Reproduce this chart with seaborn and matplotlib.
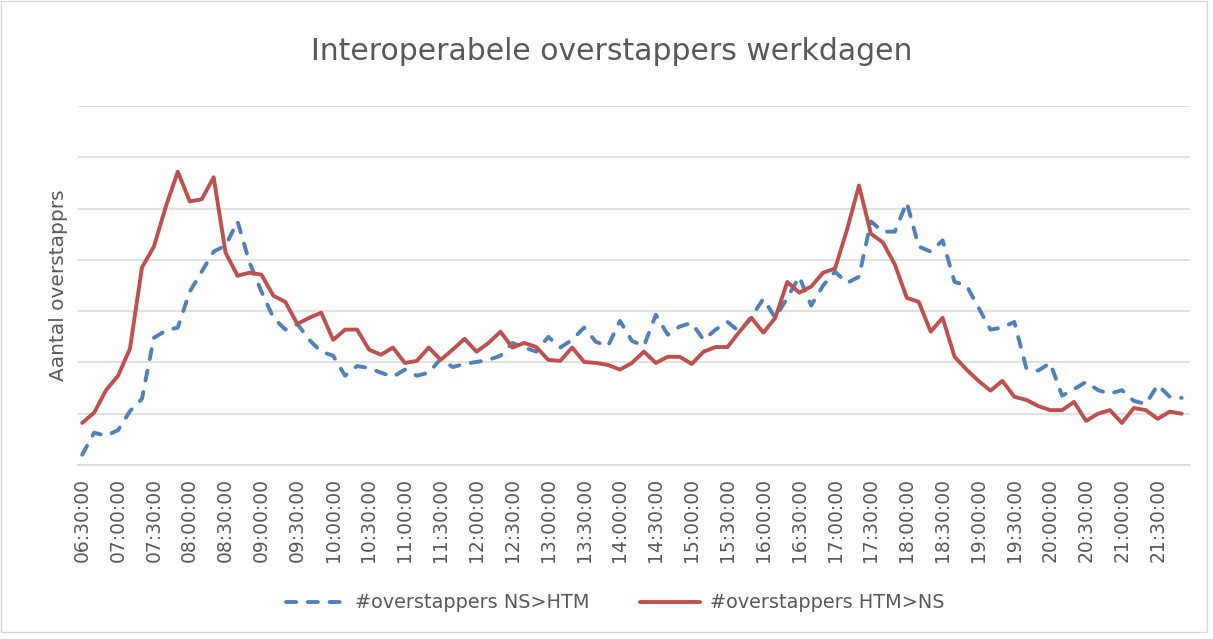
import numpy as np
import pandas as pd
import matplotlib
matplotlib.use("Agg")
import matplotlib.pyplot as plt
import seaborn as sns
from matplotlib.patches import Rectangle

# ---- data ----
start_minutes = 6 * 60 + 30
times = [f"{(start_minutes + 10 * i) // 60:02d}:{(start_minutes + 10 * i) % 60:02d}:00" for i in range(93)]

ns_htm = [2.0, 6.3, 5.7, 6.8, 10.5, 12.9, 24.8, 26.2, 26.8, 33.8,
          37.7, 41.6, 42.8, 47.5, 39.5, 33.8, 28.7, 26.4, 27.5, 24.4,
          22.1, 21.3, 17.4, 19.3, 18.9, 18.0, 17.2, 18.6, 17.4, 18.0,
          20.7, 19.1, 19.7, 20.1, 20.5, 21.3, 23.8, 22.9, 22.1, 25.0,
          22.9, 24.4, 26.8, 24.0, 23.2, 28.1, 24.2, 23.2, 29.3, 25.4,
          27.0, 27.7, 24.4, 26.4, 27.9, 26.0, 28.9, 32.4, 28.7, 32.6,
          36.7, 31.1, 35.0, 37.7, 35.5, 36.7, 47.5, 45.5, 45.5, 51.2,
          42.6, 41.6, 43.8, 35.7, 35.0, 30.7, 26.4, 26.8, 27.9, 18.9,
          18.4, 19.9, 13.5, 14.8, 16.2, 14.6, 13.9, 14.6, 12.5, 11.9,
          15.6, 13.3, 13.1]

htm_ns = [8.2, 10.2, 14.6, 17.4, 22.7, 38.5, 42.6, 50.4, 57.2, 51.4,
          51.8, 56.1, 41.4, 36.9, 37.5, 37.1, 33.0, 31.8, 27.5, 28.7,
          29.7, 24.4, 26.4, 26.4, 22.5, 21.5, 22.9, 19.9, 20.3, 22.9,
          20.5, 22.5, 24.6, 22.1, 23.8, 26.0, 22.9, 23.8, 23.0, 20.5,
          20.3, 22.9, 20.1, 19.9, 19.5, 18.6, 19.9, 22.1, 19.9, 21.1,
          21.1, 19.7, 22.1, 23.0, 23.0, 26.0, 28.7, 25.8, 28.7, 35.7,
          33.6, 34.8, 37.5, 38.3, 45.9, 54.5, 45.1, 43.4, 39.1, 32.6,
          31.8, 26.0, 28.7, 21.1, 18.6, 16.4, 14.5, 16.4, 13.3, 12.7,
          11.5, 10.7, 10.7, 12.3, 8.6, 10.0, 10.7, 8.2, 11.1, 10.7,
          9.0, 10.4, 10.0]

series_names = ["#overstappers NS>HTM", "#overstappers HTM>NS"]
title = "Interoperabele overstappers werkdagen"
ylabel = "Aantal overstapprs"

df = pd.DataFrame({
    "tijd": times * 2,
    "waarde": ns_htm + htm_ns,
    "reeks": [series_names[0]] * len(times) + [series_names[1]] * len(times),
})

# ---- plot ----
sns.set_theme(style="white")
plt.rcParams['font.family'] = ['DejaVu Sans']
text_col = "#595959"
grid_col = "#D9D9D9"

fig = plt.figure(figsize=(12.13, 6.39), dpi=100)
ax = fig.add_axes([78 / 1213, 1 - 465 / 639, (1190 - 78) / 1213, (465 - 106) / 639])

palette = {series_names[0]: "#4F81BD", series_names[1]: "#C0504D"}
sns.lineplot(data=df, x="tijd", y="waarde", hue="reeks", style="reeks",
             palette=palette,
             dashes={series_names[0]: (2.6, 3.0), series_names[1]: ""},
             linewidth=2.8, ax=ax, sort=False, legend=True)
for ln in ax.lines:
    ln.set_dash_capstyle("round")
    ln.set_solid_joinstyle("round")

ax.set_ylim(0, 70)
ax.set_xlim(-0.35, 92.7)
ax.set_yticks(np.arange(0, 71, 10))
ax.set_yticklabels([])
ax.tick_params(axis='y', length=0)
ax.yaxis.grid(True, color=grid_col, linewidth=1.1)
ax.xaxis.grid(False)
ax.set_axisbelow(True)
for s in ["top", "right", "left"]:
    ax.spines[s].set_visible(False)
ax.spines["bottom"].set_color(grid_col)
ax.spines["bottom"].set_linewidth(1.1)

tick_idx = list(range(0, 93, 3))
ax.set_xticks(tick_idx)
ax.set_xticklabels([times[i] for i in tick_idx], rotation=90, fontsize=13.5, color=text_col)
ax.tick_params(axis='x', length=0, pad=9)
ax.set_xlabel("")
ax.set_ylabel(ylabel, fontsize=14.5, color=text_col, labelpad=4)

fig.text(0.504, 1 - 52 / 639, title, ha="center", va="center", fontsize=21.5, color=text_col)

handles, labels = ax.get_legend_handles_labels()
ax.get_legend().remove()
for h in handles:
    h.set_linewidth(2.8)
    h.set_dash_capstyle("round")
fig.legend(handles, labels, loc="center", bbox_to_anchor=(0.507, 1 - 603 / 639),
           ncol=2, frameon=False, fontsize=13.9, handlelength=3.1, handletextpad=0.5,
           columnspacing=2.6, labelcolor=text_col)

fig.patches.append(Rectangle((1 / 1213, 1 - 632 / 639), 1206 / 1213, 631 / 639,
                             transform=fig.transFigure, fill=False,
                             edgecolor="#D9D9D9", linewidth=1))

fig.savefig("out.png", dpi=100)
